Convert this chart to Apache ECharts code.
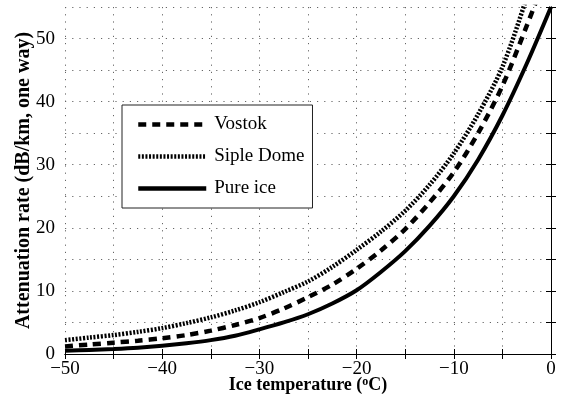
<!DOCTYPE html>
<html>
<head>
<meta charset="utf-8">
<script src="https://cdn.jsdelivr.net/npm/echarts@6/dist/echarts.min.js"></script>
<style>
  html, body { margin: 0; padding: 0; background: #fff; }
  #main { width: 562px; height: 399px; }
</style>
</head>
<body>
<div id="main"></div>
<script>
// temperatures (°C) and attenuation (dB/km, one way)
var temps   = [-50, -47.5, -45, -42.5, -40, -37.5, -35, -32.5, -30, -27.5, -25,
               -22.5, -20, -17.5, -15, -12.5, -10, -7.5, -5, -2.5, 0];
var vostok  = [1.2, 1.5, 1.8, 2.1, 2.5, 3.0, 3.7, 4.6, 5.7, 7.2, 9.0,
               11.0, 13.5, 16.4, 19.8, 24.0, 28.8, 35.0, 42.5, 52.0, 62.0];
var siple   = [2.2, 2.6, 3.0, 3.5, 4.1, 4.9, 5.8, 6.9, 8.2, 9.8, 11.5,
               13.8, 16.5, 19.4, 22.7, 26.8, 31.8, 38.0, 45.5, 56.5, 69.0];
var pureIce = [0.5, 0.65, 0.8, 1.0, 1.3, 1.7, 2.2, 2.9, 3.9, 5.0, 6.3,
               8.0, 10.1, 13.0, 16.3, 20.3, 25.0, 30.8, 37.8, 46.0, 55.0];

var xTickLabels = ['\u221250', '\u221240', '\u221230', '\u221220', '\u221210', '0'];
var xTickValues = [-50, -40, -30, -20, -10, 0];
var yTickLabels = ['0', '10', '20', '30', '40', '50'];
var yTickValues = [0, 10, 20, 30, 40, 50];

var font = "'Liberation Serif', 'Times New Roman', serif";

function pairs(ys) {
    return temps.map(function (t, i) { return [t, ys[i]]; });
}

var myChart = echarts.init(document.getElementById('main'));

var axisLine = { show: true, lineStyle: { color: '#000', width: 1 } };
var tick = { show: true, inside: true, length: 5, lineStyle: { color: '#000' } };
var grid = { show: true, lineStyle: { color: '#666', type: [1.2, 6], width: 1 } };

myChart.setOption({
    animation: false,
    backgroundColor: '#fff',
    grid: { left: 65, right: 11, top: 7, bottom: 45, outerBoundsMode: 'none' },
    legend: {
        orient: 'vertical',
        left: 122,
        top: 105,
        padding: [10, 8, 10, 14],
        itemWidth: 68,
        itemHeight: 14,
        itemGap: 13,
        borderColor: '#222',
        borderWidth: 1,
        backgroundColor: '#fff',
        itemStyle: { opacity: 0 },
        lineStyle: { width: 4.5 },
        textStyle: { fontFamily: font, fontSize: 19, color: '#000', padding: [0, 0, 0, 3] },
        data: ['Vostok', 'Siple Dome', 'Pure ice']
    },
    xAxis: [
        {
            type: 'value', min: -50, max: 0, interval: 5, position: 'bottom',
            axisLine: axisLine, axisTick: tick, splitLine: grid,
            axisLabel: {
                margin: 6, fontFamily: font, fontSize: 19, color: '#000',
                showMinLabel: true, showMaxLabel: true,
                formatter: function (v) {
                    var i = xTickValues.indexOf(v);
                    return i >= 0 ? xTickLabels[i] : '';
                }
            },
            name: '{t|Ice temperature (}{s|o}{t|C)}',
            nameLocation: 'middle',
            nameGap: 22,
            nameMoveOverlap: false,
            nameTextStyle: {
                rich: {
                    t: { fontFamily: font, fontSize: 18, fontWeight: 'bold', color: '#000' },
                    s: { fontFamily: font, fontSize: 12, fontWeight: 'bold', color: '#000', verticalAlign: 'top', padding: [0, 0, 6, 0] }
                }
            }
        },
        {
            type: 'value', min: -50, max: 0, interval: 5, position: 'top',
            axisLine: axisLine, axisTick: tick, splitLine: { show: false },
            axisLabel: { show: false }
        }
    ],
    yAxis: [
        {
            type: 'value', min: 0, max: 55, interval: 5, position: 'left',
            axisLine: axisLine, axisTick: tick, splitLine: grid,
            axisLabel: {
                margin: 10, fontFamily: font, fontSize: 19, color: '#000',
                showMinLabel: true, showMaxLabel: true,
                formatter: function (v) {
                    var i = yTickValues.indexOf(v);
                    return i >= 0 ? yTickLabels[i] : '';
                }
            },
            name: 'Attenuation rate (dB/km, one way)',
            nameLocation: 'middle',
            nameGap: 31,
            nameMoveOverlap: false,
            nameTextStyle: { fontFamily: font, fontSize: 20, fontWeight: 'bold', color: '#000' }
        },
        {
            type: 'value', min: 0, max: 55, interval: 5, position: 'right',
            axisLine: axisLine, axisTick: tick, splitLine: { show: false },
            axisLabel: { show: false }
        }
    ],
    series: [
        {
            name: 'Vostok', type: 'line', smooth: 0.3, symbol: 'none', clip: true,
            data: pairs(vostok),
            itemStyle: { color: '#000' },
            lineStyle: { color: '#000', width: 4.5, type: [8, 6], cap: 'butt' }
        },
        {
            name: 'Siple Dome', type: 'line', smooth: 0.3, symbol: 'none', clip: true,
            data: pairs(siple),
            itemStyle: { color: '#000' },
            lineStyle: { color: '#000', width: 4.5, type: [2, 1.6], cap: 'butt' }
        },
        {
            name: 'Pure ice', type: 'line', smooth: 0.3, symbol: 'none', clip: true,
            data: pairs(pureIce),
            itemStyle: { color: '#000' },
            lineStyle: { color: '#000', width: 4 }
        }
    ]
});
</script>
</body>
</html>
